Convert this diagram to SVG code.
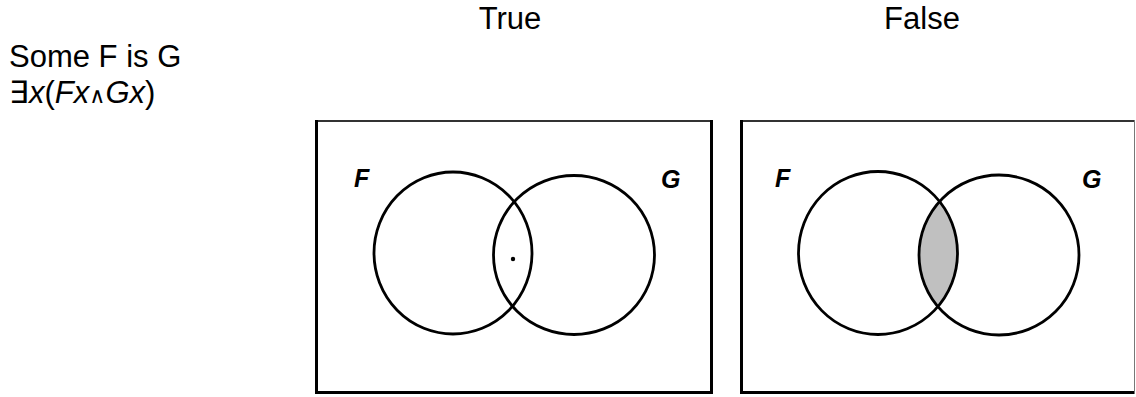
<svg xmlns="http://www.w3.org/2000/svg" width="1136" height="397" viewBox="0 0 1136 397">
<style>
  .t { font-family: "Liberation Sans", Arial, sans-serif; font-size: 31px; fill: #000; }
  .lbl { font-family: "Liberation Sans", Arial, sans-serif; font-size: 25px; font-weight: bold; font-style: italic; fill: #000; }
  .c { fill: none; stroke: #000; stroke-width: 2.8; }
  .edge { fill: none; stroke: #000; stroke-width: 3; }
  .top { fill: none; stroke: #333; stroke-width: 2; }
</style>
<defs>
  <clipPath id="clipF2"><ellipse cx="878" cy="253" rx="79.5" ry="81.5"/></clipPath>
</defs>
<rect width="1136" height="397" fill="#fff"/>
<g id="headers">
  <text class="t" x="510" y="29" text-anchor="middle">True</text>
  <text class="t" x="922" y="29" text-anchor="middle">False</text>
</g>
<g id="statement">
  <text class="t" x="9" y="67">Some F is G</text>
  <text class="t" x="9" y="103">∃<tspan font-style="italic">x</tspan>(<tspan font-style="italic">Fx</tspan><tspan font-family="DejaVu Sans, sans-serif" font-size="22">∧</tspan><tspan font-style="italic">Gx</tspan>)</text>
</g>
<g id="true-diagram">
  <path class="top" d="M315 121 H713"/>
  <path class="edge" d="M316.5 120 V392.5 H711.5 V120"/>
  <ellipse class="c" cx="453" cy="253" rx="79" ry="81"/>
  <ellipse class="c" cx="574" cy="255" rx="80.5" ry="79.5"/>
  <circle cx="513" cy="259" r="2.2" fill="#000"/>
  <text class="lbl" x="354" y="187">F</text>
  <text class="lbl" x="661" y="188">G</text>
</g>
<g id="false-diagram">
  <path class="top" d="M740 121 H1135"/>
  <path class="edge" d="M741.5 120 V392.5 H1135"/>
  <path d="M1134.5 120 V394" fill="none" stroke="#777" stroke-width="1"/>
  <ellipse cx="999" cy="255" rx="80" ry="80" fill="#c0c0c0" clip-path="url(#clipF2)"/>
  <ellipse class="c" cx="878" cy="253" rx="79.5" ry="81.5"/>
  <ellipse class="c" cx="999" cy="255" rx="80" ry="80"/>
  <text class="lbl" x="775" y="187">F</text>
  <text class="lbl" x="1082" y="188">G</text>
</g>
</svg>
